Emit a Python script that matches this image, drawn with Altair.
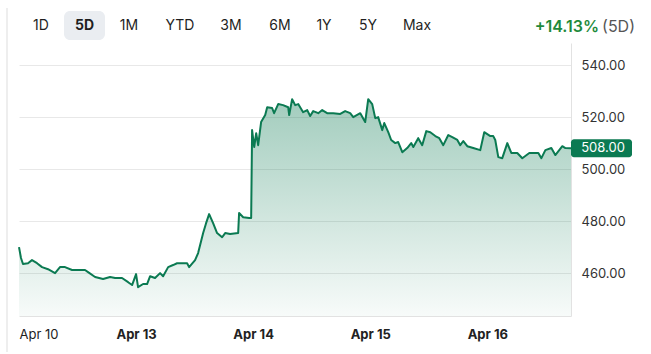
import json
import altair as alt
import pandas as pd

# ---------------- data ----------------
day_labels = ["Apr 10", "Apr 13", "Apr 14", "Apr 15", "Apr 16"]

# time in trading sessions since the Apr 10 open
t_days = [0.000, 0.017, 0.034, 0.077, 0.111, 0.154, 0.197, 0.248, 0.308, 0.350,
          0.393, 0.453, 0.564, 0.590, 0.650, 0.718, 0.778, 0.821, 0.880, 0.932,
          0.966, 1.000, 1.017, 1.060, 1.094, 1.120, 1.162, 1.205, 1.231, 1.274,
          1.316, 1.350, 1.436, 1.453, 1.504, 1.530, 1.573, 1.598, 1.624, 1.658,
          1.692, 1.735, 1.761, 1.803, 1.872, 1.880, 1.915, 1.966, 1.983, 1.991,
          2.009, 2.026, 2.043, 2.068, 2.103, 2.120, 2.162, 2.179, 2.214, 2.256,
          2.299, 2.308, 2.333, 2.359, 2.385, 2.427, 2.462, 2.487, 2.513, 2.556,
          2.590, 2.632, 2.684, 2.744, 2.786, 2.829, 2.855, 2.915, 2.957, 2.983,
          3.017, 3.043, 3.068, 3.103, 3.120, 3.154, 3.179, 3.214, 3.239, 3.274,
          3.316, 3.350, 3.368, 3.410, 3.444, 3.479, 3.513, 3.556, 3.590, 3.624,
          3.667, 3.701, 3.744, 3.769, 3.795, 3.829, 3.880, 3.940, 3.974, 4.026,
          4.051, 4.068, 4.094, 4.128, 4.171, 4.205, 4.256, 4.299, 4.359, 4.436,
          4.462, 4.496, 4.547, 4.581, 4.641, 4.667, 4.715]

prices = [470.0, 465.8, 463.5, 463.8, 465.0, 463.8, 462.3, 461.5, 460.0, 462.3,
          462.3, 461.2, 461.2, 460.4, 458.5, 457.7, 458.5, 458.1, 458.1, 456.5,
          455.4, 459.6, 454.6, 455.8, 455.8, 458.8, 458.1, 460.0, 458.8, 462.3,
          463.1, 463.8, 463.8, 462.3, 465.0, 467.7, 475.4, 479.2, 482.7, 479.2,
          475.4, 473.8, 475.4, 475.0, 475.4, 483.1, 481.5, 481.2, 481.2, 515.0,
          508.5, 513.8, 509.2, 518.1, 520.8, 523.8, 523.5, 521.5, 525.0, 524.6,
          523.8, 520.8, 526.9, 524.6, 525.0, 521.9, 522.7, 520.4, 522.3, 521.5,
          522.7, 521.5, 521.5, 521.2, 522.3, 521.5, 520.0, 521.5, 518.1, 526.9,
          525.0, 519.6, 520.0, 515.0, 517.7, 514.2, 511.2, 510.0, 510.4, 506.5,
          508.1, 510.0, 508.5, 511.9, 509.2, 514.6, 514.2, 512.7, 511.9, 509.2,
          513.1, 512.3, 511.2, 509.2, 510.8, 508.8, 508.1, 507.3, 514.2, 512.7,
          512.7, 511.2, 504.6, 504.2, 510.0, 506.2, 506.2, 504.2, 506.2, 506.2,
          504.2, 507.3, 508.1, 505.4, 508.8, 508.1, 508.0]

y_ticks = [460, 480, 500, 520, 540]
buttons = ["1D", "5D", "1M", "YTD", "3M", "6M", "1Y", "5Y", "Max"]
selected_button = "5D"
change_text = "+14.13%"
period_text = "(5D)"

# ---------------- layout / style ----------------
W, H = 552, 273
PAD = {"left": 19, "top": 43, "right": 80, "bottom": 38}
Y_MIN, Y_MAX = 443.5, 548.5
X_MAX = 4.715
GREEN = "#0b7a52"
FONT = "Inter"
button_x = [41, 84.5, 129, 180, 231, 280, 324, 368, 417]  # absolute centres
BTN_Y = 26

df = pd.DataFrame({"t": t_days, "price": prices})

x_scale = alt.Scale(domain=[0, X_MAX], nice=False, zero=False)
y_scale = alt.Scale(domain=[Y_MIN, Y_MAX], nice=False, zero=False)

label_expr = json.dumps(day_labels) + "[datum.value]"

x_axis = alt.Axis(
    values=list(range(len(day_labels))),
    labelExpr=label_expr,
    title=None,
    grid=False,
    ticks=False,
    domain=True,
    domainColor="#e2e2e2",
    labelFont=FONT,
    labelFontSize=13,
    labelColor="#222222",
    labelPadding=12,
    labelAlign={"condition": {"test": "datum.value == 0", "value": "left"}, "value": "center"},
    labelFontWeight={"condition": {"test": "datum.value == 0", "value": "normal"}, "value": "bold"},
)

y_axis = alt.Axis(
    orient="right",
    values=y_ticks,
    format=".2f",
    title=None,
    ticks=False,
    domain=True,
    domainColor="#e2e2e2",
    grid=True,
    gridColor="#e8e8e8",
    labelFont=FONT,
    labelFontSize=13,
    labelColor="#333333",
    labelPadding=10,
)

base = alt.Chart(df)

area = base.mark_area(
    color=alt.Gradient(
        gradient="linear",
        stops=[
            alt.GradientStop(color="rgba(11,122,82,0.38)", offset=0),
            alt.GradientStop(color="rgba(11,122,82,0.03)", offset=1),
        ],
        x1=0, x2=0, y1=0, y2=1,
    )
).encode(
    x=alt.X("t:Q", scale=x_scale, axis=x_axis),
    y=alt.Y("price:Q", scale=y_scale, axis=y_axis),
    y2=alt.datum(Y_MIN),
)

line = base.mark_line(color=GREEN, strokeWidth=2, strokeJoin="round").encode(
    x=alt.X("t:Q"),
    y=alt.Y("price:Q"),
)

last = prices[-1]
badge_df = pd.DataFrame({"price": [last], "hi": [last + 3.45], "lo": [last - 3.45],
                         "label": [f"{last:.2f}"]})
badge = alt.Chart(badge_df).mark_rect(fill=GREEN, cornerRadius=3).encode(
    x=alt.value(552), x2=alt.value(613),
    y=alt.Y("hi:Q"), y2=alt.Y2("lo:Q"),
)
badge_text = alt.Chart(badge_df).mark_text(
    color="white", font=FONT, fontSize=13, align="center", baseline="middle"
).encode(x=alt.value(584), y=alt.Y("price:Q"), text="label:N")

layers = [area, line, badge, badge_text]

# page border on the left
layers.append(
    alt.Chart(pd.DataFrame({"a": [0]})).mark_rule(color="#dddddd", strokeWidth=1).encode(
        x=alt.value(7 - PAD["left"]), y=alt.value(8 - PAD["top"]), y2=alt.value(352 - PAD["top"])
    )
)

# selected button background
sel_i = buttons.index(selected_button)
sx = button_x[sel_i]
layers.append(
    alt.Chart(pd.DataFrame({"a": [0]})).mark_rect(fill="#eaedf1", cornerRadius=6).encode(
        x=alt.value(sx - 20.5 - PAD["left"]), x2=alt.value(sx + 20.5 - PAD["left"]),
        y=alt.value(11 - PAD["top"]), y2=alt.value(40 - PAD["top"]),
    )
)

for b, bx in zip(buttons, button_x):
    layers.append(
        alt.Chart(pd.DataFrame({"label": [b]})).mark_text(
            font=FONT, fontSize=14, color="#1f1f1f", align="center", baseline="middle",
            fontWeight="bold" if b == selected_button else "normal",
        ).encode(x=alt.value(bx - PAD["left"]), y=alt.value(BTN_Y - PAD["top"]), text="label:N")
    )

layers.append(
    alt.Chart(pd.DataFrame({"label": [change_text]})).mark_text(
        font=FONT, fontSize=16, fontWeight=600, color="#1e8a3c", align="right", baseline="middle"
    ).encode(x=alt.value(599 - PAD["left"]), y=alt.value(27 - PAD["top"]), text="label:N")
)
layers.append(
    alt.Chart(pd.DataFrame({"label": [period_text]})).mark_text(
        font=FONT, fontSize=16, color="#555555", align="right", baseline="middle"
    ).encode(x=alt.value(635 - PAD["left"]), y=alt.value(27 - PAD["top"]), text="label:N")
)

chart = alt.layer(*layers).properties(
    width=W, height=H, padding=PAD,
    autosize=alt.AutoSizeParams(type="none"),
    background="white",
).configure_view(strokeWidth=0)

chart.save("out.html", embed_options={"renderer": "svg", "actions": False})
